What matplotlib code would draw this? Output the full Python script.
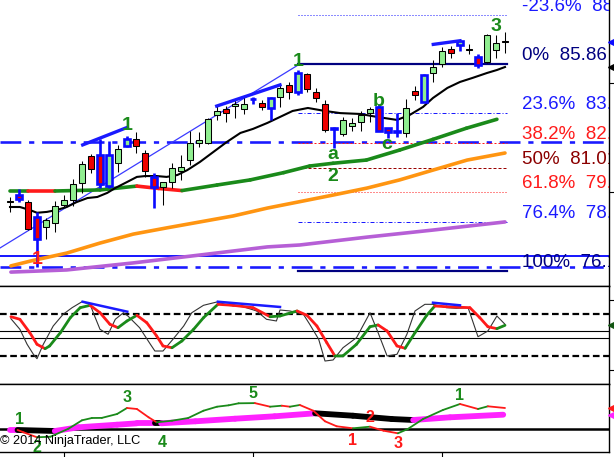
import matplotlib
matplotlib.use('Agg')
import matplotlib.pyplot as plt
from matplotlib.patches import Rectangle
from matplotlib.collections import LineCollection
import numpy as np

plt.rcParams['font.family'] = ['Liberation Sans', 'DejaVu Sans']

# ---------------- price bars ----------------
opens  = [79.41, 79.72, 79.41, 78.71, 78.24, 78.42, 79.25, 79.49, 80.30, 81.55,
          81.60, 80.14, 81.22, 82.02, 82.33, 81.68, 80.57, 80.08, 80.35, 80.86,
          81.36, 82.14, 82.14, 83.49, 83.74, 83.89, 83.74, 84.20, 84.05, 83.79,
          84.33, 84.88, 84.53, 85.38, 84.53, 83.99, 82.83, 82.58, 82.96, 83.13,
          83.58, 83.86, 82.85, 82.72, 82.64, 84.61, 84.09, 85.43, 85.85, 86.55,
          86.75, 86.55, 86.20, 85.97, 86.52, 86.95]
highs  = [79.63, 80.00, 79.49, 78.94, 78.64, 79.46, 79.72, 80.47, 81.33, 81.64,
          82.33, 82.25, 82.07, 82.49, 82.69, 81.83, 80.75, 80.35, 81.24, 81.60,
          82.74, 82.69, 83.33, 83.89, 83.89, 84.17, 84.33, 84.33, 84.17, 84.33,
          84.96, 85.03, 85.58, 85.43, 84.72, 84.17, 82.92, 83.39, 83.32, 83.67,
          83.86, 83.99, 82.85, 83.55, 84.21, 84.83, 85.37, 86.05, 86.67, 86.70,
          86.94, 86.78, 86.33, 87.27, 87.22, 87.37]
lows   = [78.93, 79.39, 78.08, 76.36, 77.66, 78.00, 79.16, 79.21, 79.83, 80.75,
          80.05, 80.05, 80.81, 81.97, 81.68, 80.58, 79.11, 79.25, 80.04, 80.43,
          81.13, 81.95, 82.11, 83.24, 83.16, 83.32, 83.52, 83.99, 83.71, 83.24,
          83.86, 84.21, 84.41, 84.56, 84.09, 82.69, 81.92, 82.49, 82.74, 82.72,
          83.16, 82.70, 82.38, 82.43, 82.43, 84.17, 84.06, 85.03, 85.71, 86.16,
          86.48, 86.32, 85.69, 85.89, 86.16, 86.36]
closes = [79.42, 79.53, 78.13, 77.65, 78.55, 79.21, 79.49, 80.24, 81.18, 80.93,
          80.24, 81.60, 81.88, 82.33, 82.02, 80.85, 80.11, 80.31, 80.97, 81.05,
          82.14, 82.28, 83.28, 83.68, 83.55, 83.97, 83.97, 84.22, 83.86, 84.25,
          84.75, 84.56, 85.46, 84.68, 84.28, 82.77, 82.88, 83.22, 83.08, 83.47,
          83.74, 82.74, 82.69, 82.69, 83.81, 84.40, 85.35, 85.71, 86.47, 86.39,
          86.94, 86.54, 85.81, 87.22, 86.83, 86.88]
signal_bars = [1, 3, 10, 11, 13, 16, 27, 29, 32, 36, 41, 42, 43, 46, 50, 52]

# ---------------- moving averages ----------------
black_ma_x = [0, 1.1, 2.2, 3, 4.1, 5.2, 6.3, 7.4, 8.6, 9.7, 10.8, 11.7, 13, 14.1, 15,
              16.3, 17.4, 18.6, 19.7, 21.1, 22.6, 24.1, 25.6, 27, 28.6, 30, 31.4,
              33.1, 35, 36.7, 38.9, 40.8, 43, 44.4, 45.9, 47, 48.6, 50, 51.4, 53,
              54.1, 55]
black_ma = [79.16, 79.16, 79.02, 78.89, 78.93, 79.02, 79.16, 79.39, 79.58, 79.63,
            79.82, 80.05, 80.33, 80.57, 80.61, 80.61, 80.57, 80.66, 80.89, 81.27,
            81.74, 82.21, 82.63, 82.82, 83.10, 83.38, 83.66, 83.80, 83.66, 83.56,
            83.52, 83.38, 83.24, 83.47, 83.85, 84.27, 84.74, 85.02, 85.21, 85.44,
            85.58, 85.72]
green_ma_x = [0, 2, 5, 10, 14.1, 16.5, 19.1, 23, 26.7, 30.4, 33.3, 35.9, 39.6,
              43.3, 47, 50.7, 54.1]
green_ma = [79.91, 79.91, 79.91, 79.96, 80.14, 80.03, 79.93, 80.19, 80.43, 80.77,
            81.08, 81.21, 81.36, 81.83, 82.33, 82.85, 83.27]
green_ma_up = [1, 0, 1, 1, 0, 0, 1, 1, 1, 1, 1, 1, 1, 1, 1, 1]
orange_ma_x = [0.1, 2.4, 6.3, 10, 13.7, 17.4, 21.1, 24.8, 28.6, 32.2, 35.9, 39.7,
               43.3, 47, 50.8, 55]
orange_ma = [76.40, 76.64, 77.00, 77.47, 77.89, 78.18, 78.46, 78.74, 79.11, 79.41,
             79.72, 80.05, 80.43, 80.89, 81.36, 81.69]
purple_ma_x = [0.1, 6.3, 13.7, 21.1, 28.6, 32.2, 39.7, 47, 55]
purple_ma = [76.11, 76.21, 76.54, 76.91, 77.29, 77.38, 77.75, 78.08, 78.46]

# ---------------- fibonacci / drawings ----------------
fib_high = 85.86
fib_low = 76.16
fib_levels = [-0.236, 0.0, 0.236, 0.382, 0.5, 0.618, 0.764, 1.0]
fib_start, fib_end = 32, 55.2
h_lines = [82.21, 76.86, 76.35]
trend_line = [(-1.11, 77.24), (32, 85.81)]
div_lines_price = [[(8.08, 82.07), (13.03, 82.89)],
                   [(22.97, 83.89), (30, 84.88)],
                   [(47.03, 86.78), (50, 86.95)]]
price_labels = [("1", 13, 83.00, 'g'), ("1", 32, 86.00, 'g'), ("1", 3, 76.72, 'r'),
                ("a", 35.9, 81.60, 'g'), ("2", 35.9, 80.61, 'g'),
                ("b", 41, 84.09, 'g'), ("c", 41.9, 82.11, 'g'), ("3", 54, 87.61, 'g')]

# ---------------- stochastics ----------------
d_x = [0.1, 1.1, 2.2, 3, 3.9, 4.4, 5.6, 6.7, 7.8, 8.9, 10, 11.1, 12, 13, 14.1, 15.2,
       16.3, 17, 18, 19.1, 20.4, 21.5, 23.1, 24.8, 27, 28.9, 30, 31.9, 33, 34.1, 35.2,
       36.1, 37, 38.5, 40, 40.9, 41.9, 43, 43.9, 45, 46.3, 47.2, 48.5, 51.1, 52.2,
       53.1, 54.1, 55]
d_v = [75.7, 72.0, 52.9, 36.3, 30.0, 33.9, 52.9, 74.3, 88.6, 92.0, 81.4, 64.9, 60.0,
       69.6, 77.7, 67.1, 48.1, 33.9, 31.4, 41.0, 57.7, 74.3, 93.4, 92.0, 88.6, 75.7,
       76.7, 83.9, 77.7, 62.4, 38.6, 19.6, 19.8, 36.3, 61.4, 63.9, 55.3, 33.9, 30.6,
       52.9, 77.7, 91.0, 90.0, 88.6, 74.3, 61.4, 58.6, 63.4]
k_x = [0.1, 1.1, 1.9, 2.6, 3, 3.7, 4.8, 5.9, 6.9, 8, 8.9, 9.4, 10, 10.9, 11.7, 12.6,
       13.1, 14.4, 15.6, 16.1, 17, 18.1, 19.3, 20.2, 21.5, 23.1, 24.1, 25.9, 27.4,
       28.5, 29.6, 30, 31.1, 32.6, 33.3, 34.3, 35, 35.9, 37, 38.5, 40, 40.9, 41.9, 43,
       44.1, 45, 46.1, 47, 48.5, 49.6, 50.9, 52, 53.1, 54.1, 55]
k_v = [72.9, 57.7, 36.3, 22.0, 15.7, 36.3, 62.4, 79.1, 88.6, 97.1, 93.4, 76.7, 57.7,
       50.6, 72.0, 81.4, 76.7, 60.0, 36.3, 26.7, 26.7, 43.4, 62.4, 81.4, 92.0, 97.1,
       92.0, 90.0, 83.9, 72.0, 69.6, 85.3, 83.9, 79.1, 64.9, 43.4, 12.4, 13.9, 31.4,
       45.7, 81.4, 52.9, 19.6, 22.0, 50.6, 83.9, 93.4, 93.4, 88.6, 87.7, 88.6, 47.1,
       55.3, 76.7, 64.9]
stoch_div = [[(8.07, 97.1), (13.03, 82.9)],
             [(23.1, 97.1), (30, 89.6)],
             [(47.0, 95.7), (50, 92.0)]]
stoch_dashed = [80, 20]
stoch_solid = [55, 45]

# ---------------- bottom oscillator ----------------
mag_x = [0, 0.84, 4.98, 7.6, 11.9, 14.1, 16.1, 16.8, 20.6, 25, 29.4, 33.9, 38.1,
         42.4, 44.8, 48.9, 54.8]
mag_v = [-0.13, -0.13, -0.23, 0.14, 0.40, 0.54, 0.54, 0.54, 0.74, 1.00, 1.24, 1.54,
         1.30, 0.97, 0.87, 1.14, 1.40]
mag_state = ['m', 'k', 'm', 'm', 'm', 'm', 'k', 'm', 'm', 'm', 'm', 'k', 'k', 'k',
             'm', 'm']
osc_x = [0.84, 1.5, 3.0, 4.5, 6.5, 8.0, 9.1, 10.2, 11.9, 13.0, 14.1, 15.4, 16.3, 18.0,
         19.8, 21.5, 23.0, 24.3, 25.4, 27.2, 28.9, 30.2, 31.1, 32.2, 33.7, 35.0, 36.3,
         38.1, 40.0, 41.5, 43.1, 44.2, 45.9, 48.1, 50.0, 52.0, 53.1, 55.0]
osc_v = [-0.13, -0.36, -0.86, -0.80, 0.0, 0.84, 1.07, 1.08, 1.47, 2.07, 1.97, 1.14,
         0.64, 0.80, 1.07, 1.80, 2.20, 2.34, 2.54, 2.56, 2.20, 2.30, 2.20, 2.37, 1.80,
         0.74, 0.24, 0.04, 0.20, -0.20, -0.46, -0.03, 0.97, 1.87, 2.47, 1.97, 2.24,
         2.07]
osc_labels = [("1", 1.07, 0.87, 'g'), ("2", 3.0, -1.83, 'g'), ("3", 13.03, 3.14, 'g'),
              ("4", 16.96, -1.36, 'g'), ("5", 26.96, 3.47, 'g'), ("1", 38.06, -1.2, 'r'),
              ("2", 40.02, 1.14, 'r'), ("3", 43.07, -1.53, 'r'), ("1", 50.0, 3.3, 'g')]
x_ticks = [6, 27, 48]

# ---------------- styling ----------------
GREEN = '#1a8a1a'
RED = '#ff1a1a'
BLUE = '#1a1aff'
NAVY = '#000080'
UPFILL = '#90ee90'
DNFILL = '#ee0000'
W, H = 614, 457

fig = plt.figure(figsize=(W / 100, H / 100), dpi=100)


def rect(top, bot):
    return [0, (H - bot) / H, 609 / W, (bot - top) / H]


ax1 = fig.add_axes(rect(0, 286))
ax2 = fig.add_axes(rect(286, 384))
ax3 = fig.add_axes(rect(384, 452))
XL = (-10 / 9, 599 / 9)
for ax in (ax1, ax2, ax3):
    ax.set_xlim(*XL)
    ax.set_facecolor('white')
    for s in ('left', 'top'):
        ax.spines[s].set_visible(False)
    for s in ('right', 'bottom', 'top'):
        ax.spines[s].set_color('black')
        ax.spines[s].set_linewidth(1.0)
    ax.set_xticks([])
    ax.yaxis.tick_right()
    ax.tick_params(axis='y', direction='out', length=4, labelright=False, width=0.8)
ax2.spines['top'].set_visible(True)
ax3.spines['top'].set_visible(True)

lw1 = 0.72  # one pixel in points


def colored(ax, x, v, cols, lw, z=3):
    pts = np.column_stack([x, v])
    segs = np.stack([pts[:-1], pts[1:]], axis=1)
    lc = LineCollection(segs, colors=cols, linewidths=lw, capstyle='round',
                        joinstyle='round', zorder=z)
    ax.add_collection(lc)


def slope_cols(v, up, dn):
    return [up if b >= a else dn for a, b in zip(v[:-1], v[1:])]


# ---------------- main panel ----------------
ax1.set_ylim(88.86 - 0.04686 * 286, 88.86)
ax1.set_yticks([84.96, 79.88])

for y in h_lines[:1] + h_lines[2:]:
    ax1.axhline(y, color=BLUE, lw=2 * lw1 * 1.3, ls=(0, (8, 3, 2, 3)), zorder=2)
ax1.axhline(h_lines[1], color=BLUE, lw=2 * lw1, zorder=2)

fib_styles = {
    -0.236: (BLUE, (0, (1, 2)), lw1, BLUE),
    0.0: (NAVY, '-', 2.2 * lw1, NAVY),
    0.236: (BLUE, (0, (4, 2, 1, 2)), lw1, BLUE),
    0.382: (RED, (0, (2, 2)), lw1, RED),
    0.5: ('#990000', (0, (3, 2)), lw1, '#8b0000'),
    0.618: (RED, (0, (1, 2)), lw1, RED),
    0.764: (BLUE, (0, (4, 2, 1, 2)), lw1, BLUE),
    1.0: (NAVY, '-', 2.2 * lw1, NAVY),
}
rng = fib_high - fib_low
for lev in fib_levels:
    price = fib_high - lev * rng
    col, ls, lw, tcol = fib_styles[lev]
    ax1.plot([fib_start, fib_end], [price, price], color=col, ls=ls, lw=lw, zorder=2)
    ax1.text(56.86, price + 4 * 0.04686, f"{lev * 100:g}%  {price:.2f}", color=tcol,
             fontsize=13.5, ha='left', va='baseline', clip_on=True, zorder=8)

(tx0, ty0), (tx1, ty1) = trend_line
ax1.plot([tx0, tx1], [ty0, ty1], color='#3a3aff', lw=0.9, zorder=2)

ax1.plot(purple_ma_x, purple_ma, color='#b65fd6', lw=2.6, zorder=3, solid_capstyle='round')
ax1.plot(orange_ma_x, orange_ma, color='#ff9511', lw=2.6, zorder=3, solid_capstyle='round')
colored(ax1, green_ma_x, green_ma, [GREEN if u else RED for u in green_ma_up], 2.6)
ax1.plot(black_ma_x, black_ma, color='black', lw=1.5, zorder=3)

bw = 0.62
for i, (o, h, l, c) in enumerate(zip(opens, highs, lows, closes)):
    blue = i in signal_bars
    up = c >= o
    edge = '#0a0aff' if blue else 'black'
    lw = 1.9 if blue else 0.75
    fill = UPFILL if up else DNFILL
    if blue and abs(c - o) < 0.06:
        fill = '#0a0aff'
    ax1.plot([i, i], [l, h], color=edge, lw=lw, zorder=4, solid_capstyle='butt')
    ax1.add_patch(Rectangle((i - bw / 2, min(o, c)), bw, abs(c - o), facecolor=fill,
                            edgecolor=edge, lw=lw, zorder=5))

for seg in div_lines_price:
    (x0, y0), (x1, y1) = seg
    ax1.plot([x0, x1], [y0, y1], color='#1a1aff', lw=2.4, zorder=6)

for txt, x, y, c in price_labels:
    ax1.text(x, y, txt, color=GREEN if c == 'g' else RED, fontsize=14,
             fontweight='bold', ha='center', va='center', zorder=9)

ax1.plot([67.1], [closes[-1]], marker='<', ms=8, color='#0a0aff', clip_on=False, zorder=10)
ax1.plot([67.1], [black_ma[-1]], marker='<', ms=8, color='black', clip_on=False, zorder=10)

# ---------------- stochastic panel ----------------
ax2.set_ylim((369.7 - 384) / 0.7, (369.7 - 286) / 0.7)
ax2.set_yticks([100, 0])
for y in stoch_dashed:
    ax2.axhline(y, color='black', lw=1.6, ls=(0, (3, 1.6)), zorder=2)
for y in stoch_solid:
    ax2.axhline(y, color='black', lw=0.8, zorder=2)
ax2.plot(k_x, k_v, color='#333333', lw=0.8, zorder=3)
colored(ax2, d_x, d_v, slope_cols(d_v, GREEN, RED), 2.0, z=4)
for seg in stoch_div:
    (x0, y0), (x1, y1) = seg
    ax2.plot([x0, x1], [y0, y1], color='#1a1aff', lw=1.8, zorder=5)
ax2.plot([67.1], [d_v[-1]], marker='<', ms=8, color='#115511', clip_on=False, zorder=10)

# ---------------- bottom panel ----------------
ax3.set_ylim((428.7 - 452) / 10, (428.7 - 384) / 10)
ax3.set_yticks([])
ax3.axhline(0, color='black', lw=1.8, zorder=2)
colored(ax3, mag_x, mag_v, ['#ff22ff' if s == 'm' else 'black' for s in mag_state], 4.2, z=3)
colored(ax3, osc_x, osc_v, slope_cols(osc_v, GREEN, RED), 1.3, z=4)
for txt, x, y, c in osc_labels:
    ax3.text(x, y, txt, color=GREEN if c == 'g' else RED, fontsize=11.5,
             fontweight='bold', ha='center', va='center', zorder=9, clip_on=True)
ax3.plot([67.1], [osc_v[-1]], marker='<', ms=8, color=RED, clip_on=False, zorder=10)
ax3.plot([67.1], [mag_v[-1]], marker='<', ms=8, color='#ff22ff', clip_on=False, zorder=10)
ax3.set_xticks(x_ticks)
ax3.set_xticklabels([])
ax3.tick_params(axis='x', direction='out', length=5, width=0.8)

fig.text(0.0, 1 - 441 / H, "\u00a9 2014 NinjaTrader, LLC", fontsize=9.2,
         ha='left', va='center', color='black')

fig.savefig('out.png', dpi=100)
